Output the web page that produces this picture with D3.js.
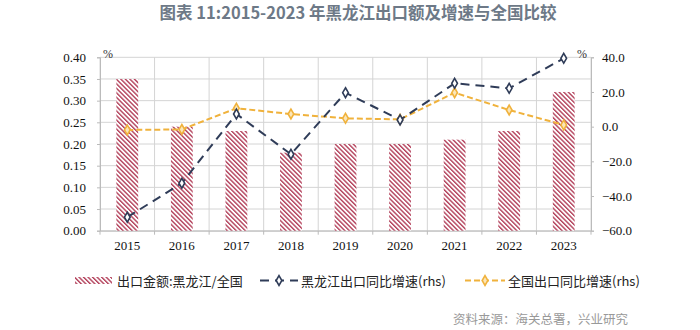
<!DOCTYPE html>
<html>
<head>
<meta charset="utf-8">
<script src="https://cdn.jsdelivr.net/npm/d3@7"></script>
<style>
  html, body { margin: 0; padding: 0; background: #fff; }
  svg { display: block; }
</style>
</head>
<body>
<svg id="chart" width="700" height="330"></svg>
<script>
// Heilongjiang exports vs. national, 2015-2023
const years = ["2015", "2016", "2017", "2018", "2019", "2020", "2021", "2022", "2023"];
// Heilongjiang export value as a share of the national total (%)
const shareValues = [0.35, 0.24, 0.23, 0.18, 0.20, 0.20, 0.21, 0.23, 0.32];
// Heilongjiang export YoY growth (%), right axis
const hljGrowth = [-52.2, -32.6, 7.3, -15.9, 19.6, 3.9, 25.0, 22.1, 39.4];
// National export YoY growth (%), right axis
const chinaGrowth = [-1.9, -1.6, 10.6, 7.3, 4.8, 4.2, 19.6, 9.6, 1.0];
const leftTicks = [0, 0.05, 0.10, 0.15, 0.20, 0.25, 0.30, 0.35, 0.40];
const rightTicks = [-60, -40, -20, 0, 20, 40];

const titleText = "图表 11:2015-2023 年黑龙江出口额及增速与全国比较";
const legendLabels = ["出口金额:黑龙江/全国", "黑龙江出口同比增速(rhs)", "全国出口同比增速(rhs)"];
const sourceText = "资料来源：海关总署，兴业研究";

const svg = d3.select("#chart");
const plot = { left: 100, right: 591, top: 57.3, bottom: 230.7 };

const barColor = "#b3415b";
const navy = "#2f3c58";
const orange = "#f0b23c";
const gridColor = "#d4d4d4";
const serif = "'Liberation Serif', 'Times New Roman', serif";
const cjk = "'Noto Sans CJK SC', 'Noto Sans', sans-serif";

// hatch fill for the share bars
const defs = svg.append("defs");
const pat = defs.append("pattern")
  .attr("id", "hatch")
  .attr("patternUnits", "userSpaceOnUse")
  .attr("width", 3.2).attr("height", 3.2)
  .attr("patternTransform", "rotate(-45)");
pat.append("rect").attr("width", 3.2).attr("height", 3.2).attr("fill", "#fff");
pat.append("rect").attr("width", 1.4).attr("height", 3.2).attr("fill", barColor);

const x = d3.scaleBand().domain(years).range([plot.left, plot.right]).padding(0);
const yL = d3.scaleLinear().domain([0, 0.4]).range([plot.bottom, plot.top]);
const yR = d3.scaleLinear().domain([-60, 40]).range([plot.bottom, plot.top]);
const cx = d => x(d) + x.bandwidth() / 2;

// gridlines
const grid = svg.append("g");
grid.selectAll("line.h").data(leftTicks).join("line")
  .attr("x1", plot.left).attr("x2", plot.right)
  .attr("y1", d => yL(d)).attr("y2", d => yL(d))
  .attr("stroke", gridColor).attr("stroke-width", 1);
const vBounds = years.map(d => x(d)).concat([plot.right]);
grid.selectAll("line.v").data(vBounds).join("line")
  .attr("x1", d => d).attr("x2", d => d)
  .attr("y1", plot.top).attr("y2", plot.bottom)
  .attr("stroke", gridColor).attr("stroke-width", 1);

// axes
const leftAxis = d3.axisLeft(yL).tickValues(leftTicks).tickFormat(d3.format(".2f"))
  .tickSize(3).tickPadding(11);
const gL = svg.append("g").attr("transform", `translate(${plot.left},0)`).call(leftAxis);
const rightAxis = d3.axisRight(yR).tickValues(rightTicks).tickFormat(d3.format(".1f"))
  .tickSize(3).tickPadding(8);
const gR = svg.append("g").attr("transform", `translate(${plot.right},0)`).call(rightAxis);
const bottomAxis = d3.axisBottom(x).tickSize(0).tickPadding(10);
const gB = svg.append("g").attr("transform", `translate(0,${plot.bottom})`).call(bottomAxis);
// small ticks at category boundaries
svg.append("g").selectAll("line").data(vBounds).join("line")
  .attr("x1", d => d).attr("x2", d => d)
  .attr("y1", plot.bottom).attr("y2", plot.bottom + 4)
  .attr("stroke", "#bbb");

[gL, gR, gB].forEach(g => {
  g.select(".domain").attr("stroke", "#bbb");
  g.selectAll(".tick line").attr("stroke", "#bbb");
  g.selectAll("text").attr("font-family", serif).attr("font-size", 13).attr("fill", "#111");
});

// bars
svg.append("g").selectAll("rect").data(years).join("rect")
  .attr("x", (d) => cx(d) - x.bandwidth() * 0.2)
  .attr("width", x.bandwidth() * 0.4)
  .attr("y", (d, i) => yL(shareValues[i]))
  .attr("height", (d, i) => yL(0) - yL(shareValues[i]))
  .attr("fill", "url(#hatch)");

// growth lines
function drawSeries(values, color, dash, markerFill) {
  const line = d3.line().x((d, i) => cx(years[i])).y(d => yR(d));
  svg.append("path").datum(values)
    .attr("d", line)
    .attr("fill", "none")
    .attr("stroke", color)
    .attr("stroke-width", 2)
    .attr("stroke-dasharray", dash);
  svg.append("g").selectAll("path").data(values).join("path")
    .attr("d", d3.symbol(d3.symbolDiamond).size(28))
    .attr("transform", (d, i) => `translate(${cx(years[i])},${yR(d)})`)
    .attr("fill", markerFill)
    .attr("stroke", color)
    .attr("stroke-width", 1.6);
}
drawSeries(chinaGrowth, orange, "6,3", "#fbe6b8");
drawSeries(hljGrowth, navy, "9,6", "#fff");

// unit marks
svg.append("text").attr("x", 108).attr("y", 58).attr("text-anchor", "middle")
  .attr("font-family", serif).attr("font-size", 12).attr("fill", "#333").text("%");
svg.append("text").attr("x", 582).attr("y", 58).attr("text-anchor", "middle")
  .attr("font-family", serif).attr("font-size", 12).attr("fill", "#333").text("%");

// title
svg.append("text").attr("x", 358).attr("y", 12).attr("text-anchor", "middle")
  .attr("dominant-baseline", "central")
  .attr("font-family", cjk).attr("font-weight", 700).attr("font-size", 16.5)
  .attr("fill", "#6d7987").text(titleText);

// legend
const ly = 280.5;
const leg = svg.append("g").attr("font-family", cjk).attr("font-size", 13).attr("fill", "#222");
leg.append("rect").attr("x", 75).attr("y", ly - 3.5).attr("width", 37).attr("height", 7)
  .attr("fill", "url(#hatch)");
leg.append("text").attr("x", 117).attr("y", ly).attr("dominant-baseline", "central").text(legendLabels[0]);

leg.append("line").attr("x1", 260).attr("x2", 298).attr("y1", ly).attr("y2", ly)
  .attr("stroke", navy).attr("stroke-width", 2).attr("stroke-dasharray", "9,6");
leg.append("path").attr("d", d3.symbol(d3.symbolDiamond).size(28))
  .attr("transform", `translate(279,${ly})`).attr("fill", "#fff")
  .attr("stroke", navy).attr("stroke-width", 1.6);
leg.append("text").attr("x", 301).attr("y", ly).attr("dominant-baseline", "central").text(legendLabels[1]);

leg.append("line").attr("x1", 465).attr("x2", 505).attr("y1", ly).attr("y2", ly)
  .attr("stroke", orange).attr("stroke-width", 2).attr("stroke-dasharray", "6,3");
leg.append("path").attr("d", d3.symbol(d3.symbolDiamond).size(28))
  .attr("transform", `translate(485,${ly})`).attr("fill", "#fbe6b8")
  .attr("stroke", orange).attr("stroke-width", 1.6);
leg.append("text").attr("x", 508).attr("y", ly).attr("dominant-baseline", "central").text(legendLabels[2]);

// source note
svg.append("text").attr("x", 453).attr("y", 318).attr("dominant-baseline", "central")
  .attr("font-family", cjk).attr("font-size", 12.5).attr("fill", "#999").text(sourceText);
</script>
</body>
</html>
